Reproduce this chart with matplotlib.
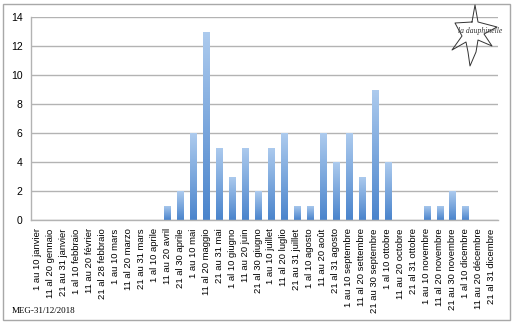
import numpy as np
import matplotlib
matplotlib.use("Agg")
import matplotlib.pyplot as plt
from matplotlib.patches import Rectangle
from matplotlib.colors import LinearSegmentedColormap

# ── données ──
periods = [
    "1 au 10 janvier", "11 al 20 gennaio", "21 au 31 janvier",
    "1 al 10 febbraio", "11 au 20 février", "21 al 28 febbraio",
    "1 au 10 mars", "11 al 20 marzo", "21 au 31 mars",
    "1 al 10 aprile", "11 au 20 avril", "21 al 30 aprile",
    "1 au 10 mai", "11 al 20 maggio", "21 au 31 mai",
    "1 al 10 giugno", "11 au 20 juin", "21 al 30 giugno",
    "1 au 10 juillet", "11 al 20 luglio", "21 au 31 juillet",
    "1 al 10 agosto", "11 au 20 août", "21 al 31 agosto",
    "1 au 10 septembre", "11 al 20 settembre", "21 au 30 septembre",
    "1 al 10 ottobre", "11 au 20 octobre", "21 al 31 ottobre",
    "1 au 10 novembre", "11 al 20 novembre", "21 au 30 novembre",
    "1 al 10 dicembre", "11 au 20 décembre", "21 al 31 dicembre",
]
counts = [0, 0, 0, 0, 0, 0, 0, 0, 0, 0, 1, 2,
          6, 13, 5, 3, 5, 2, 5, 6, 1, 1, 6, 4,
          6, 3, 9, 4, 0, 0, 1, 1, 2, 1, 0, 0]
y_ticks = [0, 2, 4, 6, 8, 10, 12, 14]
credit = "MEG-31/12/2018"
logo_text = "la dauphinelle"

fig = plt.figure(figsize=(5.16, 3.24), dpi=100)
ax = fig.add_axes([31 / 516, 1 - 220 / 324, (498 - 31) / 516, (220 - 17) / 324])

x = np.arange(len(periods))
bar_w = 0.48
cmap = LinearSegmentedColormap.from_list("grad", ["#4a84cc", "#adcbee"])
grad = np.linspace(0, 1, 256).reshape(-1, 1)

bars = ax.bar(x, counts, bar_w, color="none", zorder=2)
for b in bars:
    h = b.get_height()
    if h <= 0:
        continue
    x0 = b.get_x()
    im = ax.imshow(grad, cmap=cmap, origin="lower", aspect="auto",
                   extent=(x0, x0 + bar_w, 0, h), zorder=2)
    im.set_clip_path(b)

ax.set_xlim(-0.5, len(periods) - 0.5)
ax.set_ylim(0, 14)
ax.set_yticks(y_ticks)
ax.set_yticklabels([str(v) for v in y_ticks], fontsize=7.5, family="Liberation Sans")
ax.set_xticks(x)
ax.set_xticklabels(periods, rotation=90, fontsize=6.8, family="Liberation Sans",
                   va="top", ha="center")
ax.tick_params(length=0, pad=6)
ax.yaxis.grid(True, color="#b3b3b3", linewidth=1)
ax.set_axisbelow(True)
for s in ["top", "right"]:
    ax.spines[s].set_visible(False)
for s in ["left", "bottom"]:
    ax.spines[s].set_color("#b3b3b3")
    ax.spines[s].set_linewidth(1)

# cadre extérieur
fig.patches.append(Rectangle((3 / 516, 4 / 324), 507 / 516, 316 / 324,
                             transform=fig.transFigure, fill=False,
                             edgecolor="#a8a8a8", linewidth=1))

fig.text(12 / 516, 1 - 311 / 324, credit, fontsize=6.5, family="Liberation Serif",
         va="center", ha="left")

# logo (fleur stylisée)
lx = [472, 475, 478, 497, 484, 492, 478, 476, 470, 468, 466, 452, 462, 455, 472]
ly = [22, 5, 22, 27, 34, 46, 40, 52, 66, 52, 42, 50, 36, 23, 22]
fig.lines.append(plt.Line2D([v / 516 for v in lx], [1 - v / 324 for v in ly],
                            transform=fig.transFigure, color="#333333", linewidth=0.7))
fig.text(480 / 516, 1 - 31 / 324, logo_text, fontsize=5.5, family="Liberation Serif",
         style="italic", ha="center", va="center", color="#333333")

fig.savefig("out.png", dpi=100)
